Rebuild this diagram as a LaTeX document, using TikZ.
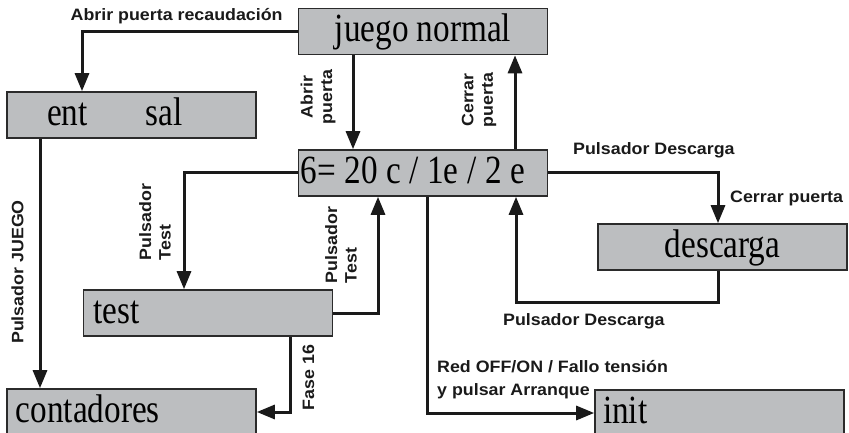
\documentclass[tikz,border=0pt]{standalone}
\usepackage{fontspec}
\usetikzlibrary{arrows.meta,calc}
\newfontfamily\boxfnt[FakeStretch=0.83]{Liberation Serif}
\newfontfamily\lblfnt[FakeStretch=1.08]{Liberation Sans Bold}
\definecolor{boxgray}{HTML}{BCBEC0}
\definecolor{edge}{HTML}{2B2B2B}
\definecolor{ink}{HTML}{1A1A1A}
\newcommand{\lefttext}[2]{\makebox[#1][l]{\spaceskip=8.6pt\relax #2}}
\begin{document}
\begin{tikzpicture}[x=1pt,y=-1pt,
 box/.style={draw=edge, line width=1.6pt, fill=boxgray, minimum width=249pt, minimum height=46pt,
   inner sep=0pt, text height=21pt, text depth=0pt, font=\boxfnt\fontsize{40}{48}\selectfont},
 conn/.style={line width=3pt, draw=ink, -{Triangle[length=18pt,width=14pt]}},
 lbl/.style={font=\lblfnt\fontsize{16.5}{19.5}\selectfont, inner sep=0pt, text=ink},
 vlbl/.style={lbl, rotate=90}]
\useasboundingbox (0,0) rectangle (849,433);

\node[box] (juego) at (423,31.5) {juego normal};
\node[box] (entsal) at (131.5,115) {\lefttext{169pt}{ent\hspace{58pt}sal}};
\node[box] (six) at (423,173) {\lefttext{245pt}{6= 20 c / 1e / 2 e}};
\node[box] (desc) at (722.5,247) {descarga};
\node[box] (test) at (208,313) {\lefttext{229pt}{test}};
\node[box] (cont) at (131.5,412) {\lefttext{231pt}{contadores}};
\node[box] (init) at (719.5,413) {\lefttext{233pt}{init}};

\draw[conn] (juego.west) -| ([xshift=-49.5pt]entsal.north);
\draw[conn] ([xshift=-70pt]juego.south) -- ([xshift=-70pt]six.north);
\draw[conn] ([xshift=92pt]six.north) -- ([xshift=92pt]juego.south);
\draw[conn] (six.west) -| ([xshift=-24pt]test.north);
\draw[conn] (test.east) -| ([xshift=-45pt]six.south);
\draw[conn] (six.east) -| ([xshift=-4.5pt]desc.north);
\draw[conn] ([xshift=-4.5pt]desc.south) -- ++(0,32) -| ([xshift=93pt]six.south);
\draw[conn] ([xshift=-91.5pt]entsal.south) -- ([xshift=-91.5pt]cont.north);
\draw[conn] ([xshift=82pt]test.south) |- (cont.east);
\draw[conn] ([xshift=4pt]six.south) |- (init.west);

\node[lbl, anchor=base west] (l1) at (70.5,21) {Abrir puerta recaudación};
\node[vlbl, align=center] (l2) at (318,97) {Abrir\\puerta};
\node[vlbl, align=center] (l3) at (479,100) {Cerrar\\puerta};
\node[lbl, anchor=base west] (l4) at (573,154) {Pulsador Descarga};
\node[lbl, anchor=base west] (l5) at (730,202) {Cerrar puerta};
\node[vlbl, align=left] (l6) at (155,222) {Pulsador\\Test};
\node[vlbl, align=left] (l7) at (341,245) {Pulsador\\Test};
\node[lbl, anchor=base west] (l8) at (503,325) {Pulsador Descarga};
\node[vlbl] (l9) at (17.5,272) {Pulsador JUEGO};
\node[vlbl] (l10) at (308.5,377.5) {Fase 16};
\node[lbl, anchor=base west] (l11) at (437,372) {Red OFF/ON / Fallo tensión};
\node[lbl, anchor=base west] (l12) at (437,395) {y pulsar Arranque};
\end{tikzpicture}
\end{document}
